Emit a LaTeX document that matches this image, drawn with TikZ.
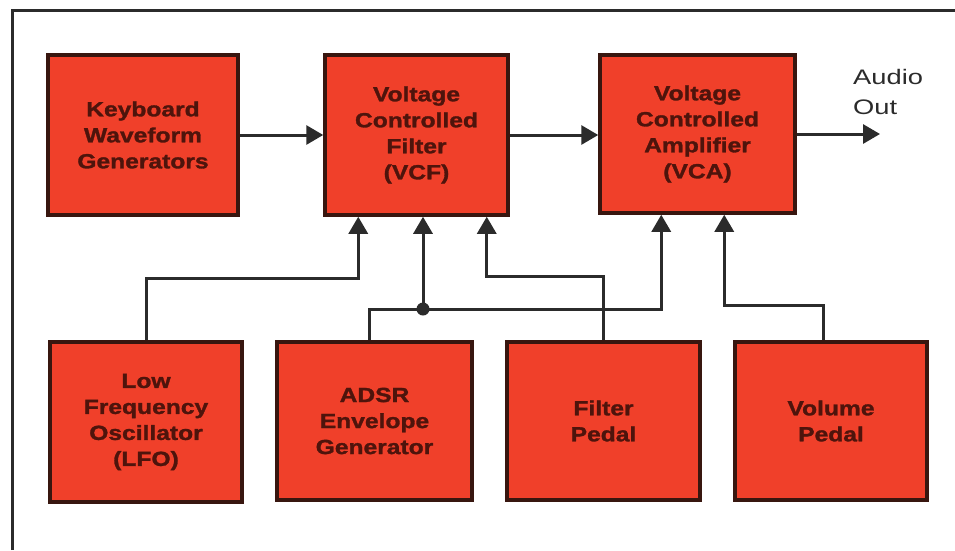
\documentclass[tikz,border=0pt]{standalone}
\usepackage{fontspec}
\setmainfont{Liberation Sans}
\newfontfamily\boxfont[FakeStretch=1.2,FakeBold=1.5]{Liberation Sans Bold}
\newfontfamily\outfont[FakeStretch=1.3]{Liberation Sans}
\usetikzlibrary{arrows.meta,calc}
\definecolor{boxred}{HTML}{F0402A}
\definecolor{boxline}{HTML}{38160F}
\definecolor{boxtext}{HTML}{4E140C}
\definecolor{wire}{HTML}{2B2B2B}
\begin{document}
\begin{tikzpicture}[x=1pt,y=-1pt,
  blockbox/.style={draw=boxline,line width=3.5pt,fill=boxred,minimum width=#1,minimum height=158pt,
    inner sep=0pt,align=center,text=boxtext,font=\boxfont\fontsize{20.5}{26}\selectfont},
  blockbox/.default=193pt,
  conn/.style={draw=wire,line width=3pt,-{Triangle[length=17pt,width=19pt]}},
  wireline/.style={draw=wire,line width=3pt}]
\useasboundingbox (0,0) rectangle (955,550);
\fill[white] (0,0) rectangle (955,550);
\draw[wireline] (12,550) -- (12,10) -- (955,10);
% top row
\node[blockbox=190pt,minimum height=160pt] (kb) at (143,135) {Keyboard\\Waveform\\Generators};
\node[blockbox=183pt,minimum height=160pt] (vcf) at (416.5,135) {Voltage\\Controlled\\Filter\\(VCF)};
\node[blockbox=195pt] (vca) at (697.5,134) {Voltage\\Controlled\\Amplifier\\(VCA)};
% bottom row
\node[blockbox=192pt,minimum height=160pt] (lfo) at (146,422) {Low\\Frequency\\Oscillator\\(LFO)};
\node[blockbox=195pt] (adsr) at (374.5,421) {ADSR\\Envelope\\Generator};
\node[blockbox] (filt) at (603.5,421) {Filter\\Pedal};
\node[blockbox=192pt] (vol) at (831,421) {Volume\\Pedal};
% output label
\node[anchor=west,align=left,inner sep=0pt,text=wire,font=\outfont\fontsize{21}{30}\selectfont] (audio) at (853,92) {Audio\\Out};
\coordinate (out) at (880,135);
% signal path
\draw[conn] (kb.east) -- (kb.east -| vcf.west);
\draw[conn] (vcf.east) -- (vcf.east -| vca.west);
\draw[conn] (vca.east) -- (vca.east -| out);
% control paths
\draw[conn] (lfo.north) -- ++(0,-62) -| ([xshift=35pt]vcf.south west);
\coordinate (j) at (423,309);
\draw[wireline] ([xshift=-5.5pt]adsr.north) |- (j);
\draw[conn] (j) -- (j |- vcf.south);
\draw[conn] (j) -| ([xshift=63pt]vca.south west);
\fill[wire] (j) circle (6.5pt);
\draw[conn] (filt.north) -- ++(0,-64) -| ([xshift=-23pt]vcf.south east);
\draw[conn] ([xshift=-8pt]vol.north) -- ++(0,-35) -| ([xshift=126pt]vca.south west);
\end{tikzpicture}
\end{document}
